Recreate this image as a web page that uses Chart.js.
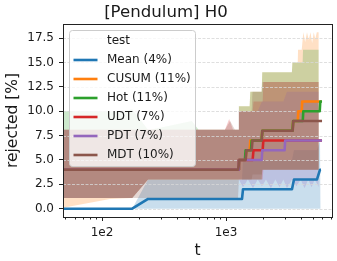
<!DOCTYPE html>
<html>
<head>
<meta charset="utf-8">
<script src="https://cdn.jsdelivr.net/npm/chart.js@4.4.1/dist/chart.umd.min.js"></script>
<style>
    html, body { margin: 0; padding: 0; background: #ffffff; }
    #wrap { width: 337px; height: 261px; position: relative; }
</style>
</head>
<body>
<div id="wrap"><canvas id="chart"></canvas></div>
<script>
(function () {
    'use strict';

    const chartTitle = '[Pendulum] H0';
    const xTitle = 't';
    const yTitle = 'rejected [%]';
    const legendTitle = 'test';
    const seriesNames = ['Mean (4%)', 'CUSUM (11%)', 'Hot (11%)', 'UDT (7%)', 'PDT (7%)', 'MDT (10%)'];
    const seriesColors = ['#1f77b4', '#ff7f0e', '#2ca02c', '#d62728', '#9467bd', '#8c564b'];

    const xMin = 48.4;
    const xMax = 7160;
    const yMin = -0.85;
    const yMax = 18.95;
    const yTicks = [0, 2.5, 5, 7.5, 10, 12.5, 15, 17.5];
    const xMajorTicks = [100, 1000];
    const xMajorLabels = ['1e2', '1e3'];
    const xMinorTicks = [50, 60, 70, 80, 90, 200, 300, 400, 500, 600, 700, 800, 900,
        2000, 3000, 4000, 5000, 6000, 7000];

    // lines (t, value)
    const meanT = [48.4, 175, 235, 1346, 1371, 3405, 3534, 5418, 5732, 5840];
    const meanY = [0, 0, 1, 1, 2, 2, 3, 3, 4, 4];
    const cusumT = [48.4, 1250, 1270, 1440, 1460, 1550, 1570, 1940, 1960, 3440, 3480, 3790, 3830, 4080, 4120, 5900];
    const cusumY = [4, 4, 5, 5, 6, 6, 7, 7, 8, 8, 9, 9, 10, 10, 11, 11];
    const hotT = [48.4, 1250, 1270, 1420, 1440, 1590, 1610, 1940, 1960, 3440, 3480, 4160, 4200, 5700, 5760, 5950];
    const hotY = [4, 4, 5, 5, 6, 6, 7, 7, 8, 8, 9, 9, 10, 10, 11, 11];
    const udtT = [48.4, 1250, 1270, 1640, 1665, 1975, 2000, 5950];
    const udtY = [4, 4, 5, 5, 6, 6, 7, 7];
    const pdtT = [48.4, 1250, 1270, 1940, 1960, 2970, 3000, 5950];
    const pdtY = [4, 4, 5, 5, 6, 6, 7, 7];
    const mdtT = [48.4, 1255, 1280, 1440, 1465, 1610, 1635, 1940, 1965, 3450, 3490, 5950];
    const mdtY = [4, 4, 5, 5, 6, 6, 7, 7, 8, 8, 9, 9];

    // confidence bands (t, low, high)
    const meanBandT = [48.4, 175, 235, 1346, 1371, 3405, 3534, 5418, 5732, 5800];
    const meanBandLo = [0, 0, 0, 0, 0, 0, 0, 0, 0, 0];
    const meanBandHi = [0, 0, 3, 3, 5, 5, 6, 6, 7, 7];
    const cusumBandT = [48.4, 116, 175, 235, 1250, 1270, 1550, 1570, 1940, 1960, 3400, 3430, 3790, 3810,
        4080, 4200, 4350, 4500, 4650, 4800, 4950, 5100, 5250, 5400, 5600];
    const cusumBandLo = [0.1, 1.0, 1.1, 3, 3, 3, 3, 3, 3, 4, 4, 4, 4, 4, 4, 4, 4, 4, 4, 4, 4, 4, 4, 4, 4];
    const cusumBandHi = [8.1, 8.1, 8.1, 8.1, 8.1, 10.5, 10.5, 12, 12, 14, 14, 15, 15, 16.3,
        16.3, 18.1, 17.1, 18.1, 17.3, 18.1, 17.0, 18.1, 17.4, 18.1, 18.1];
    const hotBandT = [48.4, 150, 175, 235, 245, 530, 600, 1250, 1270, 1550, 1570, 1940, 1960, 3400, 3430, 4150, 4180, 5600];
    const hotBandLo = [1.1, 1.1, 1.1, 3, 3, 3, 3, 3, 3, 3, 3, 3, 4, 4, 4, 4, 4, 4];
    const hotBandHi = [10, 10, 10.2, 8.1, 8.1, 9.0, 8.1, 8.1, 10.5, 10.5, 12, 12, 14, 14, 15, 15, 16.3, 16.3];
    const udtBandT = [48.4, 175, 235, 980, 1060, 1140, 1250, 1270, 1640, 1665, 1975, 2000, 5600];
    const udtBandLo = [1.1, 1.1, 3, 3, 3, 3, 3, 3, 3, 3, 3, 4, 4];
    const udtBandHi = [8.1, 8.1, 8.1, 8.1, 9.2, 8.1, 8.1, 10, 10, 11, 11, 13, 13];
    const pdtBandT = [48.4, 175, 235, 1250, 1270, 1370, 1500, 1650, 1800, 1950, 2100, 2300, 2500, 2700,
        2900, 3100, 3400, 3700, 4000, 4300, 4600, 4900, 5200, 5600];
    const pdtBandLo = [1.1, 1.1, 3, 3, 3, 2.2, 3, 2.1, 3, 2.3, 3, 2.1, 3, 2.2, 3, 2.1, 3, 2.3, 3, 2.1, 3, 2.2, 3, 2.2];
    const pdtBandHi = [8.1, 8.1, 8.1, 8.1, 10, 10, 10, 10, 10, 11, 11, 11, 11, 11, 11, 12, 12, 12, 12, 12, 12, 12, 12, 12];
    const mdtBandT = [48.4, 980, 1080, 1180, 1250, 1270, 1610, 1635, 1940, 1965, 5600];
    const mdtBandLo = [1.1, 1.1, 1.1, 1.1, 1.1, 3, 3, 3.5, 3.5, 4, 4];
    const mdtBandHi = [8.1, 8.1, 9.0, 8.1, 8.1, 10, 10, 12, 12, 13, 13];

    const lines = [
        [meanT, meanY], [cusumT, cusumY], [hotT, hotY],
        [udtT, udtY], [pdtT, pdtY], [mdtT, mdtY]
    ];
    const bands = [
        [meanBandT, meanBandLo, meanBandHi], [cusumBandT, cusumBandLo, cusumBandHi],
        [hotBandT, hotBandLo, hotBandHi], [udtBandT, udtBandLo, udtBandHi],
        [pdtBandT, pdtBandLo, pdtBandHi], [mdtBandT, mdtBandLo, mdtBandHi]
    ];

    const fontFamily = "'DejaVu Sans', 'Liberation Sans', sans-serif";
    const textColor = '#1a1a1a';
    const gridColor = 'rgba(215, 215, 215, 0.8)';
    const bandAlpha = 0.24;

    function points(xs, ys) {
        return xs.map((x, i) => ({ x, y: ys[i] }));
    }

    function alpha(hex, a) {
        const n = parseInt(hex.slice(1), 16);
        return `rgba(${(n >> 16) & 255}, ${(n >> 8) & 255}, ${n & 255}, ${a})`;
    }

    const datasets = [];
    lines.forEach(([xs, ys], i) => {
        datasets.push({
            label: seriesNames[i],
            data: points(xs, ys),
            borderColor: seriesColors[i],
            borderWidth: 2.6,
            borderJoinStyle: 'round',
            pointRadius: 0,
            fill: false,
            order: 6 - i
        });
    });
    bands.forEach(([xs, lo, hi], i) => {
        datasets.push({
            data: points(xs, lo),
            borderColor: 'transparent',
            borderWidth: 0,
            pointRadius: 0,
            fill: false,
            order: 20 + 6 - i
        });
        datasets.push({
            data: points(xs, hi),
            borderColor: 'transparent',
            borderWidth: 0,
            pointRadius: 0,
            backgroundColor: alpha(seriesColors[i], bandAlpha),
            fill: '-1',
            order: 20 + 6 - i
        });
    });

    function roundRect(ctx, x, y, w, h, r) {
        ctx.beginPath();
        ctx.moveTo(x + r, y);
        ctx.arcTo(x + w, y, x + w, y + h, r);
        ctx.arcTo(x + w, y + h, x, y + h, r);
        ctx.arcTo(x, y + h, x, y, r);
        ctx.arcTo(x, y, x + w, y, r);
        ctx.closePath();
    }

    const decor = {
        id: 'decor',
        beforeDatasetDraw(chart, args) {
            if (args.index !== 0) return;
            const { ctx, chartArea: a, scales: { y } } = chart;
            ctx.save();
            ctx.strokeStyle = gridColor;
            ctx.lineWidth = 1;
            ctx.setLineDash([3, 1.5]);
            y.ticks.forEach((t) => {
                const py = Math.round(y.getPixelForValue(t.value)) + 0.5;
                ctx.beginPath();
                ctx.moveTo(a.left, py);
                ctx.lineTo(a.right, py);
                ctx.stroke();
            });
            ctx.restore();
        },
        afterDatasetsDraw(chart) {
            const { ctx, chartArea: a, scales: { x } } = chart;
            const left = Math.round(a.left), top = Math.round(a.top);
            const right = Math.round(a.right), bottom = Math.round(a.bottom);
            ctx.save();
            ctx.strokeStyle = '#222222';
            ctx.lineWidth = 1;
            xMinorTicks.forEach((v) => {
                const px = Math.round(x.getPixelForValue(v)) + 0.5;
                ctx.beginPath();
                ctx.moveTo(px, bottom);
                ctx.lineTo(px, bottom + 2.5);
                ctx.stroke();
            });
            ctx.strokeRect(left + 0.5, top + 0.5, right - left, bottom - top);

            // legend box, inside the axes at upper left
            const lx = left + 6.5, ly = top + 6.5, lw = 126, lh = 136;
            roundRect(ctx, lx, ly, lw, lh, 3);
            ctx.fillStyle = 'rgba(255, 255, 255, 0.8)';
            ctx.fill();
            ctx.strokeStyle = '#cccccc';
            ctx.stroke();
            ctx.font = `12px ${fontFamily}`;
            ctx.textBaseline = 'middle';
            ctx.textAlign = 'left';
            [legendTitle].concat(seriesNames).forEach((label, i) => {
                const ry = ly + 10.5 + i * 19;
                if (i > 0) {
                    ctx.strokeStyle = seriesColors[i - 1];
                    ctx.lineWidth = 2.6;
                    ctx.beginPath();
                    ctx.moveTo(lx + 4, ry);
                    ctx.lineTo(lx + 28, ry);
                    ctx.stroke();
                }
                ctx.fillStyle = textColor;
                ctx.fillText(label, lx + 37.5, ry);
            });
            ctx.restore();
        }
    };

    Chart.defaults.font.family = fontFamily;
    Chart.defaults.color = textColor;

    new Chart(document.getElementById('chart'), {
        type: 'line',
        data: { datasets },
        options: {
            responsive: true,
            maintainAspectRatio: false,
            animation: false,
            events: [],
            layout: { padding: { left: 0, right: 5, top: 0, bottom: 0 } },
            plugins: {
                legend: { display: false },
                tooltip: { enabled: false },
                title: {
                    display: true,
                    text: chartTitle,
                    color: textColor,
                    font: { size: 16.6, weight: 'normal' },
                    padding: { top: 3, bottom: 1 }
                }
            },
            scales: {
                x: {
                    type: 'logarithmic',
                    min: xMin,
                    max: xMax,
                    afterBuildTicks: (scale) => {
                        scale.ticks = xMajorTicks.map((v) => ({ value: v, major: true }));
                    },
                    afterFit: (scale) => { scale.height = 44; },
                    ticks: {
                        autoSkip: false,
                        maxRotation: 0,
                        padding: 5,
                        color: textColor,
                        font: { size: 12 },
                        callback: (value, index) => xMajorLabels[index]
                    },
                    grid: {
                        drawOnChartArea: false,
                        drawTicks: true,
                        tickLength: 4,
                        tickColor: '#222222',
                        tickWidth: 1
                    },
                    border: { display: false },
                    title: {
                        display: true,
                        text: xTitle,
                        color: textColor,
                        font: { size: 15.5 },
                        padding: { top: 0, bottom: 1 }
                    }
                },
                y: {
                    type: 'linear',
                    min: yMin,
                    max: yMax,
                    afterBuildTicks: (scale) => {
                        scale.ticks = yTicks.map((v) => ({ value: v }));
                    },
                    afterFit: (scale) => { scale.width = 63; },
                    ticks: {
                        padding: 5,
                        color: textColor,
                        font: { size: 12 },
                        callback: (value) => Number(value).toFixed(1)
                    },
                    grid: {
                        drawOnChartArea: false,
                        drawTicks: true,
                        tickLength: 4,
                        tickColor: '#222222',
                        tickWidth: 1
                    },
                    border: { display: false },
                    title: {
                        display: true,
                        text: yTitle,
                        color: textColor,
                        font: { size: 15.5 },
                        padding: { top: 4, bottom: 0 }
                    }
                }
            }
        },
        plugins: [decor]
    });
})();
</script>
</body>
</html>
